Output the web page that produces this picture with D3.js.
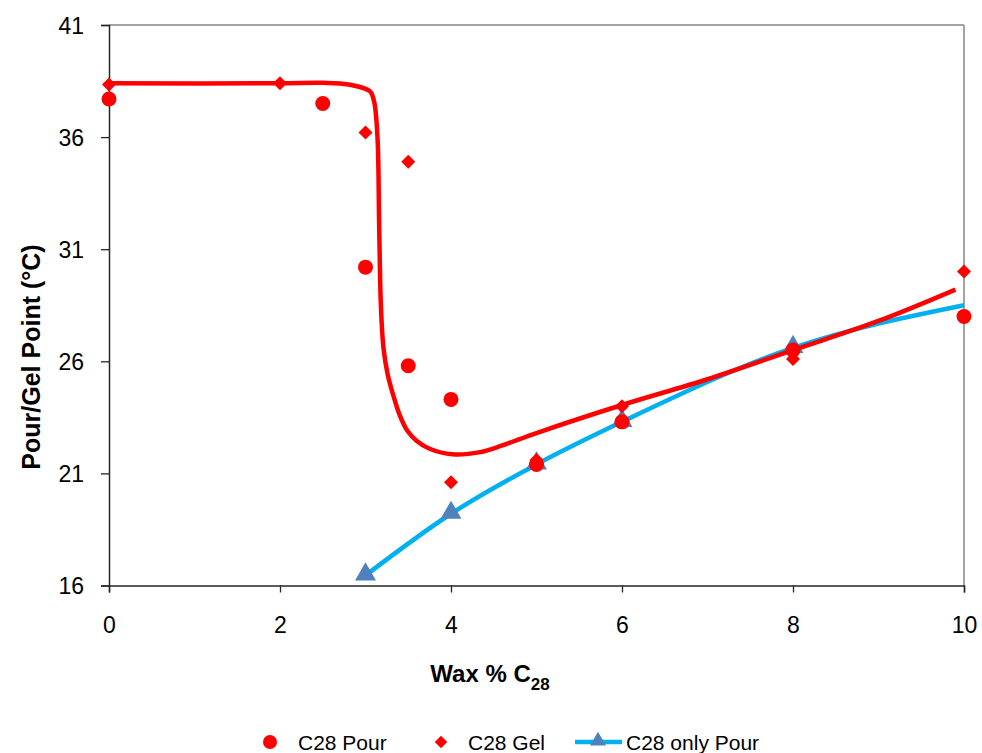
<!DOCTYPE html>
<html><head><meta charset="utf-8">
<script src="https://cdn.jsdelivr.net/npm/d3@7"></script>
<style>body{margin:0;background:#fff;} svg{display:block;font-family:"Liberation Sans",Arial,sans-serif;}</style>
</head><body>
<svg id="chart" width="982" height="753"></svg>
<script>
// ---- data ----
const pourX = [0, 2.5, 3, 3.5, 4, 5, 6, 8, 10];
const pourY = [37.7, 37.5, 30.2, 25.8, 24.3, 21.4, 23.3, 26.5, 28.0];
const gelX = [0, 2, 3, 3.5, 4, 5, 6, 8, 10];
const gelY = [38.35, 38.4, 36.2, 34.9, 20.6, 21.6, 24.0, 26.1, 30.0];
const onlyPourX = [3, 4, 5, 6, 8, 10];
const onlyPourY = [16.45, 19.2, 21.4, 23.3, 26.6, 28.5];
const onlyPourMarked = [true, true, true, true, true, false];
const trendX = [0, 2.0, 2.5, 2.8, 3.05, 3.1, 3.14, 3.16, 3.18, 3.21, 3.26, 3.32, 3.4, 3.49, 3.6, 3.75, 4.02, 4.34, 4.6, 5.0, 6.0, 7.0, 8.0, 9.0, 9.9];
const trendY = [38.4, 38.4, 38.42, 38.35, 38.05, 37.6, 36.0, 32.0, 28.5, 26.6, 25.4, 24.55, 23.6, 22.9, 22.45, 22.1, 21.85, 21.95, 22.25, 22.8, 24.05, 25.2, 26.5, 27.8, 29.2];
const xTicks = [0, 2, 4, 6, 8, 10];
const yTicks = [16, 21, 26, 31, 36, 41];
const seriesNames = ["C28 Pour", "C28 Gel", "C28 only Pour"];

const svg = d3.select("#chart");
const L = 109, R = 964, T = 25, B = 585.5;
const x = d3.scaleLinear().domain([0, 10]).range([L, R]);
const y = d3.scaleLinear().domain([16, 41]).range([B, T]);
const red = "#FF0000", lightBlue = "#00B0F0", triBlue = "#4F81BD";

// frame (top/right gray)
svg.append("line").attr("x1", L).attr("x2", R).attr("y1", T).attr("y2", T).attr("stroke", "#868686").attr("stroke-width", 1.5);
svg.append("line").attr("x1", R).attr("x2", R).attr("y1", T).attr("y2", B).attr("stroke", "#868686").attr("stroke-width", 1.5);

// axes
const yAxis = d3.axisLeft(y).tickValues(yTicks).tickSize(8).tickPadding(17).tickFormat(d3.format("d"));
const xAxis = d3.axisBottom(x).tickValues(xTicks).tickSize(7).tickPadding(24).tickFormat(d3.format("d"));
const gy = svg.append("g").attr("transform", `translate(${L},0)`).call(yAxis);
const gx = svg.append("g").attr("transform", `translate(0,${B})`).call(xAxis);
[gx, gy].forEach(g => {
  g.attr("font-size", null).attr("font-family", null);
  g.select(".domain").attr("stroke", "#262626").attr("stroke-width", 1.5);
  g.selectAll(".tick line").attr("stroke", "#262626").attr("stroke-width", 1.3);
  g.selectAll(".tick text").attr("fill", "#000").style("font-size", "23px");
});
gy.selectAll(".tick text").attr("dy", "0.35em");

// titles
const xt = svg.append("text").attr("x", 490).attr("y", 682).attr("text-anchor", "middle")
  .style("font-size", "24px").style("font-weight", "bold");
xt.append("tspan").text("Wax % C");
xt.append("tspan").attr("dy", 8).style("font-size", "17px").text("28");
svg.append("text").attr("transform", "translate(40,357) rotate(-90)").attr("text-anchor", "middle")
  .style("font-size", "25px").style("font-weight", "bold").text("Pour/Gel Point (°C)");

// blue line + triangles
const onlyPour = onlyPourX.map((v, i) => ({x: v, y: onlyPourY[i], m: onlyPourMarked[i]}));
svg.append("path").datum(onlyPour)
  .attr("d", d3.line().x(d => x(d.x)).y(d => y(d.y)).curve(d3.curveMonotoneX))
  .attr("fill", "none").attr("stroke", lightBlue).attr("stroke-width", 4.5);
const tri = d3.symbol().type(d3.symbolTriangle).size(190);
svg.append("g").selectAll("path").data(onlyPour.filter(d => d.m)).join("path")
  .attr("d", tri).attr("transform", d => `translate(${x(d.x)},${y(d.y) - 1})`).attr("fill", triBlue);

// pour circles
svg.append("g").selectAll("circle").data(pourX.map((v, i) => ({x: v, y: pourY[i]}))).join("circle")
  .attr("cx", d => x(d.x)).attr("cy", d => y(d.y)).attr("r", 7.5).attr("fill", red);

// gel diamonds
const dia = d3.symbol().type(d3.symbolDiamond2).size(125);
svg.append("g").selectAll("path").data(gelX.map((v, i) => ({x: v, y: gelY[i]}))).join("path")
  .attr("d", dia).attr("transform", d => `translate(${x(d.x)},${y(d.y)})`).attr("fill", red);

// red trend curve
const trend = trendX.map((v, i) => ({x: v, y: trendY[i]}));
svg.append("path").datum(trend)
  .attr("d", d3.line().x(d => x(d.x)).y(d => y(d.y)).curve(d3.curveCatmullRom.alpha(0.5)))
  .attr("fill", "none").attr("stroke", red).attr("stroke-width", 4.5).attr("stroke-linejoin", "round");

// legend
const ly = 742;
const lg = svg.append("g").style("font-size", "21px");
lg.append("circle").attr("cx", 270).attr("cy", ly).attr("r", 7).attr("fill", red);
lg.append("text").attr("x", 298).attr("y", ly + 8).text(seriesNames[0]);
lg.append("path").attr("d", d3.symbol().type(d3.symbolDiamond2).size(100)).attr("transform", `translate(441,${ly})`).attr("fill", red);
lg.append("text").attr("x", 468).attr("y", ly + 8).text(seriesNames[1]);
lg.append("line").attr("x1", 575).attr("x2", 622).attr("y1", ly).attr("y2", ly).attr("stroke", lightBlue).attr("stroke-width", 4.5);
lg.append("path").attr("d", d3.symbol().type(d3.symbolTriangle).size(110)).attr("transform", `translate(598,${ly - 1})`).attr("fill", triBlue);
lg.append("text").attr("x", 626).attr("y", ly + 8).text(seriesNames[2]);
</script>
</body></html>
